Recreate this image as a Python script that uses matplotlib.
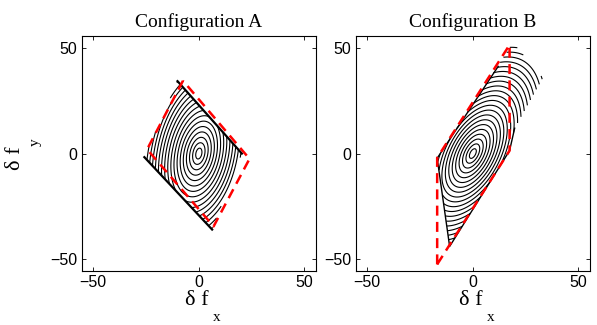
import numpy as np
import matplotlib.pyplot as plt
from matplotlib.path import Path

# black: region where the contours are drawn, red dashed: its approximation
region_a_x = [-10.1, -25.8, 6.3, 20.4]
region_a_y = [34.3, -1.7, -36.0, 0.0]
approx_a_x = [-7.5, -24.5, 7.0, 24.0, -7.5]
approx_a_y = [34.5, 2.0, -34.5, -2.5, 34.5]

region_b_x = [-16.9, -11.0, 17.4, 19.8, 33.2, 19.0]
region_b_y = [-2.2, -44.0, 1.4, 12.0, 35.8, 52.6]
approx_b_x = [-16.9, -16.9, 17.4, 17.4, -16.9]
approx_b_y = [-52.5, -2.0, 51.5, 1.4, -52.5]

# solid edges of the regions
edge_a_x = [[-10.1, 20.4], [-25.8, 6.3]]
edge_a_y = [[34.3, 0.0], [-1.7, -36.0]]
edge_b_x = [[12.0, -16.9, -11.0, 17.4, 19.8]]
edge_b_y = [[41.3, -2.2, -44.0, 1.4, 12.0]]

# ellipse tilt (deg) and ring spacing along major / minor axis
tilt = [78, 62]
step_major = [2.6, 2.5]
step_minor = [1.4, 1.28]

titles = ['Configuration A', 'Configuration B']
ticks = [-50, 0, 50]

serif = 'Liberation Serif'
sans = 'Liberation Sans'

g = np.linspace(-55, 55, 1101)
X, Y = np.meshgrid(g, g)

fig = plt.figure(figsize=(5.97, 3.25), dpi=100)
ax1 = fig.add_axes([0.1368, 0.166, 0.3925, 0.723])
ax2 = fig.add_axes([0.5958, 0.166, 0.3925, 0.723])

regions = [(region_a_x, region_a_y), (region_b_x, region_b_y)]
approx = [(approx_a_x, approx_a_y), (approx_b_x, approx_b_y)]
edges = [(edge_a_x, edge_a_y), (edge_b_x, edge_b_y)]
edge_lw = [1.6, 1.0]

for i, ax in enumerate([ax1, ax2]):
    th = np.deg2rad(tilt[i])
    u = X * np.cos(th) + Y * np.sin(th)
    v = -X * np.sin(th) + Y * np.cos(th)
    R = np.sqrt((u / step_major[i]) ** 2 + (v / step_minor[i]) ** 2)
    poly = Path(np.column_stack(regions[i]))
    inside = poly.contains_points(np.column_stack([X.ravel(), Y.ravel()])).reshape(X.shape)
    Z = np.ma.masked_where(~inside, R)
    ax.contour(X, Y, Z, levels=np.arange(1, 50), colors='k', linewidths=0.8)
    for ex, ey in zip(*edges[i]):
        ax.plot(ex, ey, color='k', lw=edge_lw[i])
    ax.plot(approx[i][0], approx[i][1], color='red', ls='--', lw=1.8, dashes=(4, 2.5))

    ax.set_xlim(-55.5, 55.5)
    ax.set_ylim(-55.5, 55.5)
    ax.set_aspect('equal')
    ax.set_xticks(ticks)
    ax.set_yticks(ticks)
    ax.set_xticklabels(['\u221250', '0', '50'], fontfamily=sans, fontsize=11.5)
    ax.set_yticklabels(['\u221250', '0', '50'], fontfamily=sans, fontsize=11.5)
    ax.tick_params(direction='in', top=True, right=True, length=3, width=0.6, pad=3)
    for s in ax.spines.values():
        s.set_linewidth(0.8)
    ax.set_title(titles[i], fontfamily=serif, fontsize=14, pad=7)
    ax.text(0.49, -0.145, '\u03b4 f', transform=ax.transAxes, ha='center', va='baseline',
            fontfamily=serif, fontsize=16)
    ax.text(0.575, -0.215, 'x', transform=ax.transAxes, ha='center', va='baseline',
            fontfamily=serif, fontsize=11)

ax1.text(-0.24, 0.48, '\u03b4 f', transform=ax1.transAxes, rotation=90, ha='right', va='center',
         fontfamily=serif, fontsize=16)
ax1.text(-0.17, 0.55, 'y', transform=ax1.transAxes, rotation=90, ha='right', va='center',
         fontfamily=serif, fontsize=11)

fig.savefig('out.png', dpi=100)
